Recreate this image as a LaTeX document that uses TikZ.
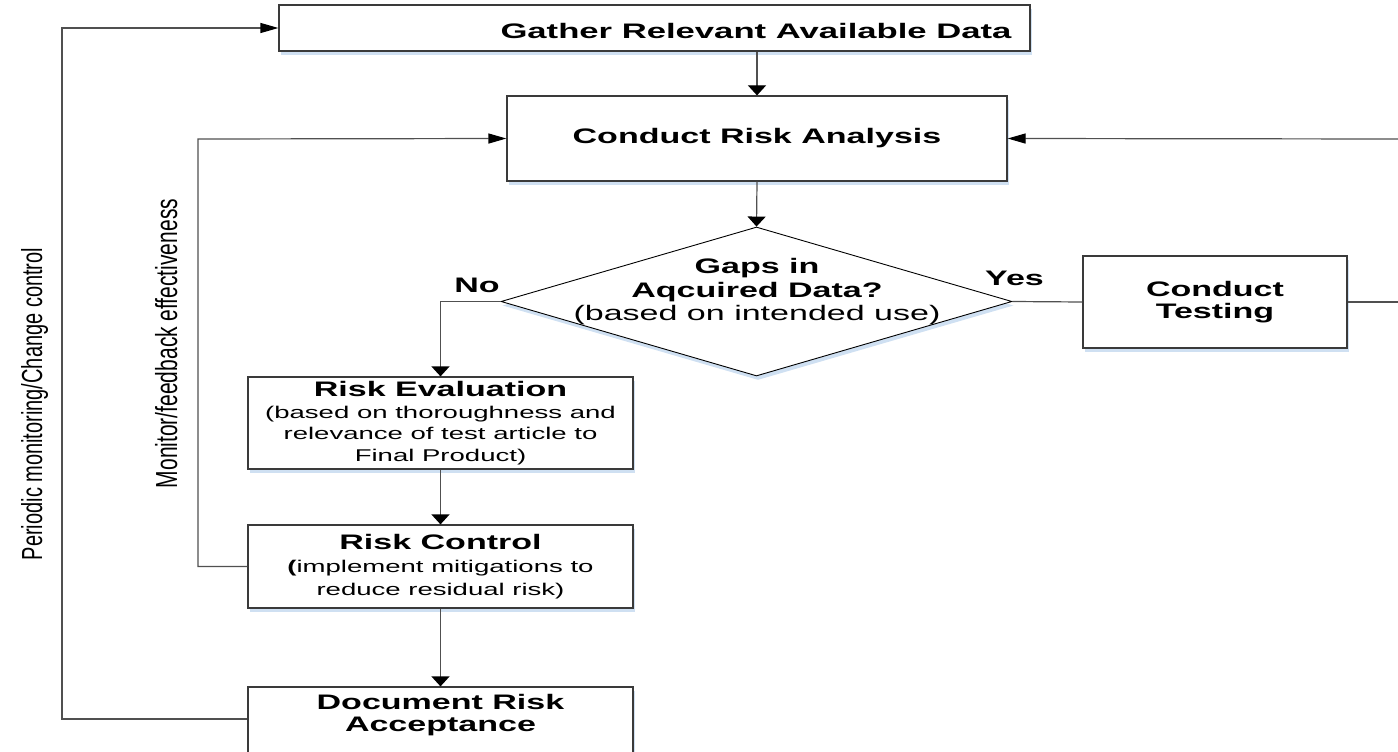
\documentclass[tikz,border=0pt]{standalone}
\usepackage{fontspec}
\setmainfont{Liberation Sans}
\usetikzlibrary{arrows.meta,shapes.geometric,shadows}

\definecolor{edgegray}{HTML}{3A3A3A}
\definecolor{wiregray}{HTML}{505050}
\definecolor{shadeblue}{HTML}{CFE0F2}

% horizontal text is set wide, rotated text is set tall
\newcommand\wide[1]{\scalebox{1.62}[1]{#1}}
\newcommand\tall[1]{\scalebox{1}[1.45]{#1}}
\newcommand\headfont{\fontsize{21}{22}\selectfont\bfseries}
\newcommand\notefont{\fontsize{17}{21.5}\selectfont}

\begin{document}
\begin{tikzpicture}[x=1pt,y=-1pt,
  boxshade/.style={drop shadow={shadow xshift=1.5pt,shadow yshift=-4pt,fill=shadeblue,opacity=1}},
  stepbox/.style={rectangle,draw=edgegray,line width=1.2pt,fill=white,inner sep=0pt,align=center,boxshade},
  decision/.style={diamond,draw=black,line width=0.9pt,fill=white,inner sep=0pt,boxshade},
  wire/.style={draw=wiregray,line width=1.2pt},
  varr/.style={wire,-{Triangle[length=10pt,width=18pt,color=black]}},
  harr/.style={wire,-{Triangle[length=18pt,width=10pt,color=black]}},
  txt/.style={inner sep=0pt,align=center}]

\clip (0,0) rectangle (1398,752);

% process boxes
\node[stepbox,minimum width=751pt,minimum height=46pt] (gather) at (654.5,28) {};
\node[txt] (gathertext) at (756,30.5) {\scalebox{1.65}[1]{\headfont Gather Relevant Available Data}};

\node[stepbox,minimum width=500pt,minimum height=85pt] (cra) at (757,138.5)
  {\wide{\headfont Conduct Risk Analysis}};

\node[decision,minimum width=511pt,minimum height=149pt] (gaps) at (756.5,301.5) {};
\node[txt,font=\fontsize{21}{23.5}\selectfont\bfseries] (gapstext) at (757,292)
  {\wide{Gaps in}\\\wide{Aqcuired Data?}\\\wide{\mdseries(based on intended use)}};

\node[stepbox,minimum width=264pt,minimum height=92pt,font=\headfont] (ct) at (1215,302)
  {\wide{Conduct}\\\wide{Testing}};

\node[stepbox,minimum width=385pt,minimum height=92pt,font=\notefont] (re) at (440.5,423)
  {\wide{\headfont Risk Evaluation}\\
   \wide{(based on thoroughness and}\\
   \wide{relevance of test article to}\\
   \wide{Final Product)}};

\node[stepbox,minimum width=385pt,minimum height=83pt,font=\notefont] (rc) at (440.5,566.5)
  {\wide{\headfont Risk Control}\\[1.5pt]
   \wide{\textbf{(}implement mitigations to}\\[1.5pt]
   \wide{reduce residual risk)}};

\node[stepbox,minimum width=385pt,minimum height=90pt] (dra) at (440.5,732) {};
\node[txt,font=\headfont] (dratext) at (440.5,715)
  {\wide{Document Risk}\\\wide{Acceptance}};

% branch labels
\node[txt,anchor=base,font=\headfont] (nolab) at (477,292) {\wide{No}};
\node[txt,anchor=base,font=\headfont] (yeslab) at (1014.5,285) {\wide{Yes}};

% loop labels
\node[txt,rotate=90,anchor=base,font=\fontsize{20}{24}\selectfont] (pmlab) at (42,404)
  {\tall{Periodic monitoring/Change control}};
\node[txt,rotate=90,anchor=base,font=\fontsize{21}{24}\selectfont] (fblab) at (177,343.5)
  {\tall{Monitor/feedback effectiveness}};

% loop corners and off-page ends
\coordinate (pmtop) at (62,28);
\coordinate (pmbot) at (62,719);
\coordinate (fbtop) at (198,139);
\coordinate (retop) at (1400,139);
\coordinate (reout) at (1400,302);

% main flow
\draw[varr] (gather.south -| cra.north) -- (cra.north);
\draw[varr] (cra.south) -- (gaps.north);
\draw[varr] (gaps.west) -| (re.north);
\draw[wire] (gaps.east) -- (ct.west);
\draw[wire] (ct.east) -- (reout);
\draw[harr] (retop) -- (cra.east);
\draw[varr] (re.south) -- (rc.north);
\draw[varr] (rc.south) -- (dra.north);

% feedback loops
\draw[harr] (rc.west) -| (fbtop) -- (cra.west);
\draw[harr] (pmbot -| dra.west) -- (pmbot) -- (pmtop) -- (pmtop -| gather.west);

\end{tikzpicture}
\end{document}
